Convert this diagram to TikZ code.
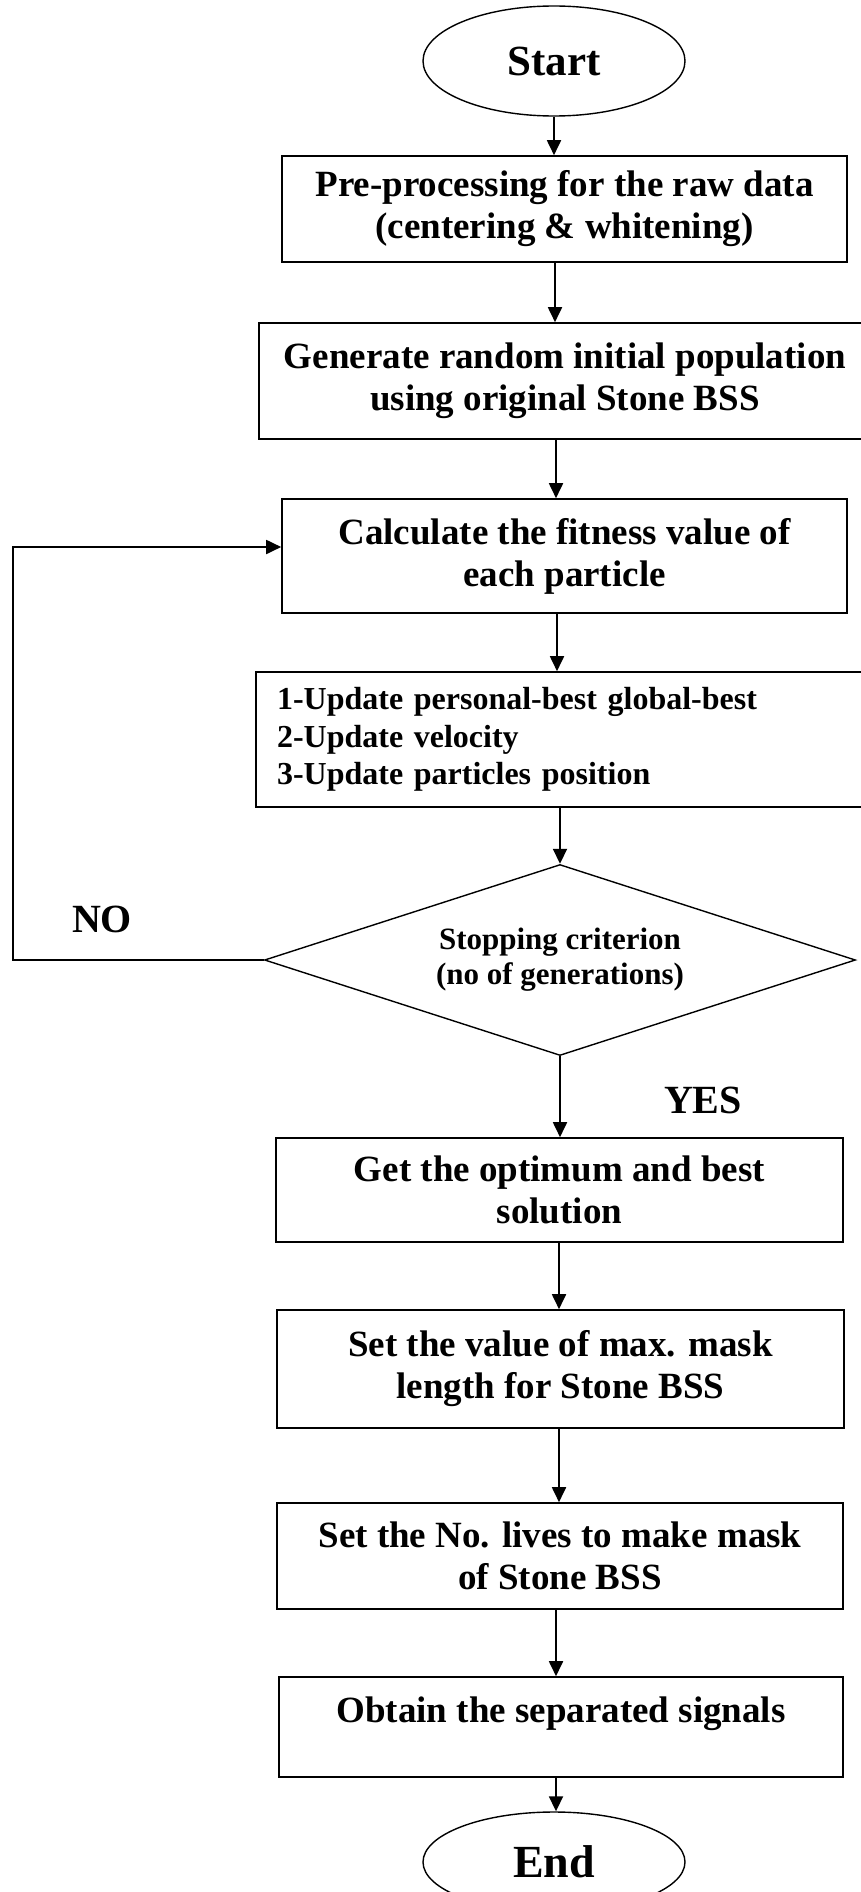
\documentclass[tikz,border=0pt]{standalone}
\usepackage{fontspec}
\setmainfont{Liberation Serif}
\usetikzlibrary{shapes.geometric,arrows.meta}
\begin{document}
\begin{tikzpicture}[x=1pt,y=-1pt,
  box/.style={draw, line width=1.6pt, rectangle, inner sep=0pt, align=center, font=\fontsize{37}{42}\selectfont\bfseries},
  arr/.style={line width=1.8pt, -{Triangle[length=15pt,width=14pt]}},
  term/.style={draw, ellipse, line width=1.4pt, inner sep=0pt, minimum width=262pt},
  lbl/.style={font=\fontsize{40}{44}\selectfont\bfseries}]
\useasboundingbox (0,0) rectangle (861,1892);
% nodes
\node[term, minimum height=110pt, font=\fontsize{43}{48}\selectfont\bfseries] (start) at (554,61) {Start};
\node[box, minimum width=565pt, minimum height=106pt] (b1) at (564.5,209) {Pre-processing for the raw data\\(centering \& whitening)};
\node[box, minimum width=612pt, minimum height=116pt] (b2) at (565,381) {Generate random initial population\\using original Stone BSS};
\node[box, minimum width=565pt, minimum height=114pt] (b3) at (564.5,556) {Calculate the fitness value of\\each particle};
\node[box, minimum width=624pt, minimum height=135pt, align=left, text width=582pt, font=\fontsize{32}{37.5}\selectfont\bfseries] (b4) at (568,739.5) {1-Update personal-best global-best\\2-Update velocity\\3-Update particles position};
\node[draw, diamond, shape aspect=3.1, line width=1.4pt, inner sep=0pt, minimum width=591pt, minimum height=191pt, align=center, font=\fontsize{31}{35}\selectfont\bfseries] (dia) at (560,960) {Stopping criterion\\(no of generations)};
\node[box, minimum width=567pt, minimum height=104pt] (b5) at (559.5,1190) {Get the optimum and best\\solution};
\node[box, minimum width=567pt, minimum height=118pt] (b6) at (560.5,1369) {Set the value of max. mask\\length for Stone BSS};
\node[box, minimum width=566pt, minimum height=106pt] (b7) at (560,1556) {Set the No. lives to make mask\\of Stone BSS};
\node[box, minimum width=564pt, minimum height=100pt] (b8) at (561,1727) {};
\node[font=\fontsize{37}{42}\selectfont\bfseries, inner sep=0pt] (b8t) at ([yshift=13pt]b8.center) {Obtain the separated signals};
\node[term, minimum height=100pt, font=\fontsize{46}{50}\selectfont\bfseries] (end) at (554,1862) {End};
\node[lbl] (no) at (102,919) {NO};
\node[lbl] (yes) at (703,1100) {YES};
% helper columns
\coordinate (x555) at (555,0);
\coordinate (x556) at (556,0);
\coordinate (x557) at (557,0);
\coordinate (x559) at (559,0);
\coordinate (xloop) at (12.7,0);
% connectors
\draw[arr] (start.south) -- (start.south |- b1.north);
\draw[arr] (b1.south -| x555) -- (b2.north -| x555);
\draw[arr] (b2.south -| x556) -- (b3.north -| x556);
\draw[arr] (b3.south -| x557) -- (b4.north -| x557);
\draw[arr] (b4.south -| dia.north) -- (dia.north);
\draw[arr] (dia.south) -- (b5.north -| dia.south);
\draw[arr] (b5.south -| x559) -- (b6.north -| x559);
\draw[arr] (b6.south -| x559) -- (b7.north -| x559);
\draw[arr] (b7.south -| x556) -- (b8.north -| x556);
\draw[arr] (b8.south -| x556) -- (end.north -| x556);
\draw[arr] (dia.west) -- (dia.west -| xloop) |- ([yshift=9pt]b3.west);
\end{tikzpicture}
\end{document}
